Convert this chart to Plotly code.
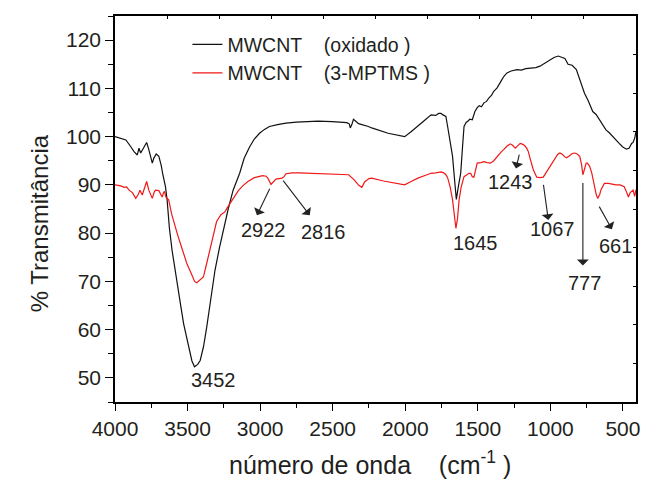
import plotly.graph_objects as go

# ---- data ----
wn_oxid = [4000, 3960, 3925, 3891, 3869, 3846, 3835, 3823, 3807, 3782, 3767, 3743, 3733, 3716, 3698,
           3682, 3670, 3652, 3641, 3625, 3607, 3573, 3550, 3527, 3493, 3470, 3452, 3430, 3413, 3390,
           3368, 3340, 3311, 3280, 3254, 3220, 3186, 3141, 3110, 3072, 3040, 3004, 2970, 2936, 2880,
           2822, 2750, 2686, 2600, 2504, 2402, 2385, 2379, 2368, 2357, 2345, 2322, 2254, 2231, 2118,
           2049, 2004, 1960, 1913, 1870, 1822, 1790, 1770, 1754, 1740, 1727, 1720, 1708, 1690, 1674,
           1660, 1648, 1635, 1618, 1605, 1595, 1580, 1572, 1555, 1538, 1520, 1504, 1490, 1475, 1458,
           1440, 1424, 1405, 1390, 1367, 1340, 1320, 1299, 1270, 1231, 1200, 1170, 1140, 1100, 1072,
           1040, 1004, 975, 946, 920, 900, 878, 850, 821, 790, 765, 740, 708, 685, 650,
           617, 594, 560, 526, 503, 476, 458, 440, 430, 418, 410]
t_oxid = [100.0, 99.6, 99.3, 97.9, 96.9, 96.2, 97.6, 96.6, 97.4, 98.8, 97.3, 94.5, 95.5, 96.4, 95.9,
          94.1, 92.1, 89.6, 86.9, 81.0, 76.5, 69.5, 65.5, 61.2, 56.4, 53.5, 52.3, 52.8, 53.6, 56.5,
          60.5, 66.5, 72.3, 77.0, 80.6, 85.0, 88.9, 92.4, 95.5, 97.9, 99.5, 100.7, 101.5, 102.1, 102.5,
          102.8, 103.0, 103.1, 103.2, 103.1, 102.9, 102.6, 101.8, 102.5, 103.6, 103.3, 102.7, 102.1, 101.8, 100.7,
          100.2, 100.0, 101.0, 102.1, 103.3, 104.5, 104.4, 104.8, 104.8, 104.5, 104.3, 104.2, 102.1, 99.0, 95.9,
          91.0, 87.0, 89.5, 92.4, 98.0, 102.1, 103.0, 103.1, 103.6, 103.5, 105.2, 106.0, 106.4, 106.2, 107.0,
          107.3, 108.0, 108.6, 109.4, 110.1, 111.5, 112.5, 113.2, 113.6, 113.9, 113.8, 114.1, 114.2, 114.3, 114.6,
          115.2, 116.0, 116.4, 116.7, 116.5, 116.2, 115.0, 114.8, 113.9, 111.2, 109.0, 107.5, 105.2, 104.6, 103.0,
          101.4, 100.8, 99.6, 98.6, 97.9, 97.4, 97.6, 98.6, 98.8, 99.8, 101.1]

wn_mptms = [4000, 3960, 3937, 3920, 3903, 3880, 3857, 3840, 3828, 3812, 3795, 3782, 3767, 3755, 3743,
            3730, 3721, 3698, 3675, 3664, 3659, 3648, 3630, 3610, 3596, 3570, 3550, 3525, 3505, 3470,
            3452, 3437, 3415, 3391, 3370, 3346, 3320, 3300, 3270, 3243, 3215, 3186, 3150, 3120, 3084,
            3040, 2982, 2960, 2947, 2925, 2910, 2891, 2850, 2835, 2822, 2780, 2731, 2600, 2500, 2390,
            2350, 2320, 2299, 2280, 2250, 2231, 2150, 2049, 2004, 1960, 1913, 1860, 1822, 1790, 1754,
            1735, 1720, 1708, 1690, 1674, 1660, 1651, 1640, 1629, 1615, 1595, 1580, 1561, 1549, 1538,
            1527, 1515, 1504, 1480, 1458, 1435, 1413, 1390, 1367, 1340, 1322, 1300, 1276, 1260, 1242,
            1225, 1208, 1197, 1180, 1163, 1152, 1140, 1129, 1117, 1094, 1070, 1049, 1030, 1004, 992,
            970, 950, 935, 920, 900, 889, 870, 850, 832, 815, 798, 785, 776, 765, 753,
            745, 730, 715, 696, 684, 674, 660, 651, 635, 628, 600, 575, 549, 520, 491,
            475, 462, 450, 440, 430, 419, 410]
t_mptms = [90.0, 89.8, 89.5, 89.6, 88.9, 88.4, 87.2, 88.0, 88.9, 87.9, 89.5, 90.7, 88.9, 88.0, 87.2,
           88.5, 88.9, 88.8, 87.5, 88.5, 88.6, 87.4, 86.9, 84.0, 82.7, 79.8, 77.9, 75.5, 73.7, 71.3,
           70.0, 69.7, 70.2, 70.9, 73.5, 76.5, 79.8, 82.4, 83.8, 84.4, 85.8, 87.2, 88.8, 89.8, 90.7,
           91.5, 91.9, 91.8, 91.4, 90.1, 90.6, 91.2, 91.4, 91.7, 92.3, 92.5, 92.5, 92.4, 92.2, 92.1,
           91.0, 89.9, 89.5, 90.6, 91.3, 91.4, 90.8, 90.2, 90.0, 90.7, 91.4, 92.0, 92.4, 92.5, 92.7,
           92.5, 92.1, 91.5, 89.5, 86.9, 83.0, 81.0, 83.0, 86.9, 89.5, 91.7, 92.0, 92.4, 92.4, 91.7,
           91.6, 93.5, 94.5, 94.6, 94.8, 94.6, 94.5, 95.0, 95.9, 96.8, 97.3, 98.0, 98.5, 98.2, 97.6,
           98.2, 98.6, 98.5, 98.2, 97.6, 96.9, 95.5, 94.2, 93.1, 91.6, 91.5, 91.6, 92.5, 93.8, 94.5,
           95.6, 96.3, 96.6, 96.4, 95.8, 95.6, 96.0, 96.5, 96.6, 96.4, 95.9, 94.2, 92.1, 93.5, 94.5,
           94.5, 93.9, 92.5, 89.6, 88.0, 87.2, 88.0, 89.0, 90.0, 90.3, 90.3, 90.1, 90.0, 90.0, 89.6,
           88.5, 87.5, 88.4, 88.7, 88.9, 87.6, 89.0]

series_names = ["MWCNT\u00a0\u00a0\u00a0\u00a0(oxidado )", "MWCNT\u00a0\u00a0\u00a0\u00a0(3-MPTMS )"]

# peak labels: text, label centre (wavenumber, %T)
peak_text = ["3452", "2922", "2816", "1645", "1243", "1067", "777", "661"]
peak_lx = [3318, 2980, 2561, 1517, 1276, 985, 762, 552]
peak_ly = [49.6, 80.7, 80.2, 77.9, 90.5, 80.8, 69.7, 77.3]

# arrows: tail (on curve) -> head (near label)
arrow_tx = [2929, 2849, 1212, 1049, 776, 669]
arrow_ty = [89.5, 91.2, 96.6, 90.3, 90.7, 85.8]
arrow_hx = [3022, 2658, 1237, 1014, 776, 576]
arrow_hy = [83.7, 83.7, 93.4, 82.7, 73.3, 80.8]

x_ticks = [4000, 3500, 3000, 2500, 2000, 1500, 1000, 500]
y_ticks = [50, 60, 70, 80, 90, 100, 110, 120]

FONT = "Liberation Sans, Arial, sans-serif"
TXT = "#231f20"

fig = go.Figure()
fig.add_trace(go.Scatter(x=wn_oxid, y=t_oxid, mode="lines", name=series_names[0],
                         line=dict(color="#111111", width=1.2)))
fig.add_trace(go.Scatter(x=wn_mptms, y=t_mptms, mode="lines", name=series_names[1],
                         line=dict(color="#f01818", width=1.2)))
# empty trace to hold the mirrored top/right tick axes
fig.add_trace(go.Scatter(x=[], y=[], xaxis="x2", yaxis="y2", showlegend=False, hoverinfo="skip"))

for txt, lx, ly in zip(peak_text, peak_lx, peak_ly):
    fig.add_annotation(x=lx, y=ly, text=txt, showarrow=False,
                       font=dict(family=FONT, size=20, color=TXT))
for tx, ty, hx, hy in zip(arrow_tx, arrow_ty, arrow_hx, arrow_hy):
    fig.add_annotation(x=hx, y=hy, ax=tx, ay=ty, axref="x", ayref="y", text="",
                       showarrow=True, arrowhead=1, arrowsize=1.8, arrowwidth=1.1,
                       arrowcolor="#222222", standoff=0, startstandoff=0)

# axis titles
fig.add_annotation(xref="paper", yref="paper", x=-0.175, y=0.4637, text="% Transmitância",
                   textangle=-90, showarrow=False, font=dict(family=FONT, size=24, color=TXT))
fig.add_annotation(xref="paper", yref="paper", x=0.49, y=-0.158, yanchor="middle",
                   text="número de onda\u00a0\u00a0\u00a0\u00a0(cm<sup>-1</sup> )",
                   showarrow=False, font=dict(family=FONT, size=25, color=TXT))

fig.update_layout(
    width=646, height=481,
    margin=dict(l=115, r=6, t=16, b=79),
    paper_bgcolor="white", plot_bgcolor="white",
    font=dict(family=FONT, color=TXT),
    showlegend=True,
    legend=dict(x=0.139, y=0.976, xanchor="left", yanchor="top",
                bgcolor="rgba(0,0,0,0)", font=dict(family=FONT, size=19.5, color=TXT),
                tracegroupgap=0),
    xaxis=dict(range=[4000, 410], tickmode="array", tickvals=x_ticks,
               ticks="outside", ticklen=7, tickwidth=1.2, tickcolor="black",
               showline=True, linecolor="black", linewidth=1.5, mirror=True,
               showgrid=False, zeroline=False,
               tickfont=dict(family=FONT, size=21, color=TXT),
               minor=dict(dtick=250, tick0=0, ticks="outside", ticklen=4, tickcolor="black", tickwidth=1.2)),
    yaxis=dict(range=[45, 125], tickmode="array", tickvals=y_ticks,
               ticks="outside", ticklen=8, tickwidth=1.2, tickcolor="black",
               showline=True, linecolor="black", linewidth=1.5, mirror=True,
               showgrid=False, zeroline=False,
               tickfont=dict(family=FONT, size=21, color=TXT),
               minor=dict(dtick=5, tick0=0, ticks="outside", ticklen=5, tickcolor="black", tickwidth=1.2)),
    xaxis2=dict(overlaying="x", side="top", range=[0, 10], dtick=1, tick0=0,
                ticks="inside", ticklen=3, tickcolor="black", showticklabels=False,
                showgrid=False, zeroline=False, showline=False),
    yaxis2=dict(overlaying="y", side="right", range=[0, 10], dtick=1, tick0=0,
                ticks="inside", ticklen=3, tickcolor="black", showticklabels=False,
                showgrid=False, zeroline=False, showline=False),
)

fig.write_html("out.html")
